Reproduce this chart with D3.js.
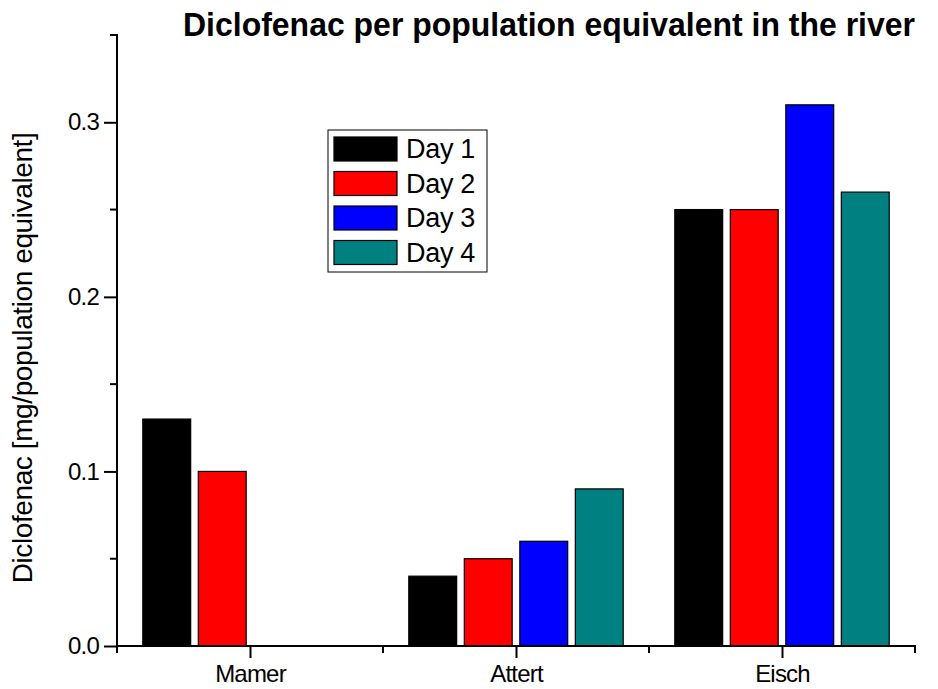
<!DOCTYPE html>
<html>
<head>
<meta charset="utf-8">
<script src="https://cdn.jsdelivr.net/npm/d3@7"></script>
<style>
  html, body { margin: 0; padding: 0; background: #fff; }
  svg { display: block; font-family: "Liberation Sans", Arial, sans-serif; }
</style>
</head>
<body>
<svg id="chart" width="938" height="689"></svg>
<script>
// Sites sampled along the rivers
const rivers = ["Mamer", "Attert", "Eisch"];
// Sampling days (series)
const days = ["Day 1", "Day 2", "Day 3", "Day 4"];
const dayColors = ["#000000", "#ff0000", "#0000ff", "#008080"];
// Diclofenac load per population equivalent, one array per day (null = no value)
const day1 = [0.13, 0.04, 0.25];
const day2 = [0.10, 0.05, 0.25];
const day3 = [null, 0.06, 0.31];
const day4 = [null, 0.09, 0.26];
const series = [day1, day2, day3, day4];
// Axis ticks
const yMajorTicks = [0.0, 0.1, 0.2, 0.3];
const yMinorTicks = [0.05, 0.15, 0.25, 0.35];
const xMinorTicks = [0.5, 1.5, 2.5, 3.5];

const svg = d3.select("#chart");

const x = d3.scaleLinear().domain([0.5, 3.5]).range([117, 915]);
const y = d3.scaleLinear().domain([0, 0.35]).range([646, 35]);

// bar layout in category units
const barStep = 0.2087;
const barWidth = 0.18;

// Bars
series.forEach((vals, di) => {
  svg.append("g")
    .selectAll("rect")
    .data(vals.map((v, ci) => ({ v, ci })).filter(d => d.v != null))
    .join("rect")
    .attr("x", d => x(d.ci + 1 + (di - 1.5) * barStep - barWidth / 2))
    .attr("width", x(1 + barWidth) - x(1))
    .attr("y", d => y(d.v))
    .attr("height", d => y(0) - y(d.v))
    .attr("fill", dayColors[di])
    .attr("stroke", "#000")
    .attr("stroke-width", 1.2);
});

// Y axis
const yAxis = svg.append("g").attr("transform", `translate(${x(0.5)},0)`);
yAxis.call(d3.axisLeft(y).tickValues(yMajorTicks).tickFormat(d3.format(".1f")).tickSize(13).tickPadding(5))
  .call(g => g.select(".domain").remove());
yAxis.selectAll(".tick line").attr("stroke", "#000").attr("stroke-width", 2);
yAxis.selectAll(".tick text").attr("font-size", 24).attr("fill", "#000")
  .attr("font-family", "Liberation Sans, Arial, sans-serif").attr("letter-spacing", -0.8);
yAxis.append("g").selectAll("line").data(yMinorTicks).join("line")
  .attr("x1", -7).attr("x2", 0).attr("y1", d => y(d)).attr("y2", d => y(d))
  .attr("stroke", "#000").attr("stroke-width", 2);
yAxis.append("line").attr("x1", 0).attr("x2", 0).attr("y1", y(0.35) - 1).attr("y2", y(0) + 1)
  .attr("stroke", "#000").attr("stroke-width", 2);

// X axis
const xAxis = svg.append("g").attr("transform", `translate(0,${y(0)})`);
xAxis.call(d3.axisBottom(x).tickValues([1, 2, 3]).tickFormat((d, i) => rivers[i]).tickSize(12).tickPadding(7))
  .call(g => g.select(".domain").remove());
xAxis.selectAll(".tick line").attr("stroke", "#000").attr("stroke-width", 2);
xAxis.selectAll(".tick text").attr("font-size", 24).attr("fill", "#000")
  .attr("font-family", "Liberation Sans, Arial, sans-serif").attr("letter-spacing", -0.8);
xAxis.append("g").selectAll("line").data(xMinorTicks).join("line")
  .attr("x1", d => x(d)).attr("x2", d => x(d)).attr("y1", 0).attr("y2", 7)
  .attr("stroke", "#000").attr("stroke-width", 2);
xAxis.append("line").attr("x1", x(0.5) - 1).attr("x2", x(3.5) + 1).attr("y1", 0).attr("y2", 0)
  .attr("stroke", "#000").attr("stroke-width", 2);

// Title
svg.append("text")
  .attr("x", 915).attr("y", 36)
  .attr("text-anchor", "end")
  .attr("font-size", 33).attr("font-weight", "bold")
  .attr("textLength", 732).attr("lengthAdjust", "spacingAndGlyphs")
  .text("Diclofenac per population equivalent in the river");

// Y axis title
svg.append("text")
  .attr("transform", `translate(32,358) rotate(-90)`)
  .attr("text-anchor", "middle")
  .attr("font-size", 28)
  .attr("letter-spacing", -0.4)
  .text("Diclofenac [mg/population equivalent]");

// Legend
const legend = svg.append("g");
legend.append("rect")
  .attr("x", 328).attr("y", 130).attr("width", 159).attr("height", 142)
  .attr("fill", "#fff").attr("stroke", "#000").attr("stroke-width", 1);
const rows = legend.selectAll("g.row").data(days).join("g")
  .attr("class", "row")
  .attr("transform", (d, i) => `translate(0,${137 + i * 34.5})`);
rows.append("rect")
  .attr("x", 334).attr("y", 0).attr("width", 63).attr("height", 24)
  .attr("fill", (d, i) => dayColors[i]).attr("stroke", "#000").attr("stroke-width", 1.2);
rows.append("text")
  .attr("x", 406).attr("y", 21)
  .attr("font-size", 27).attr("letter-spacing", -0.3)
  .text(d => d);
</script>
</body>
</html>
